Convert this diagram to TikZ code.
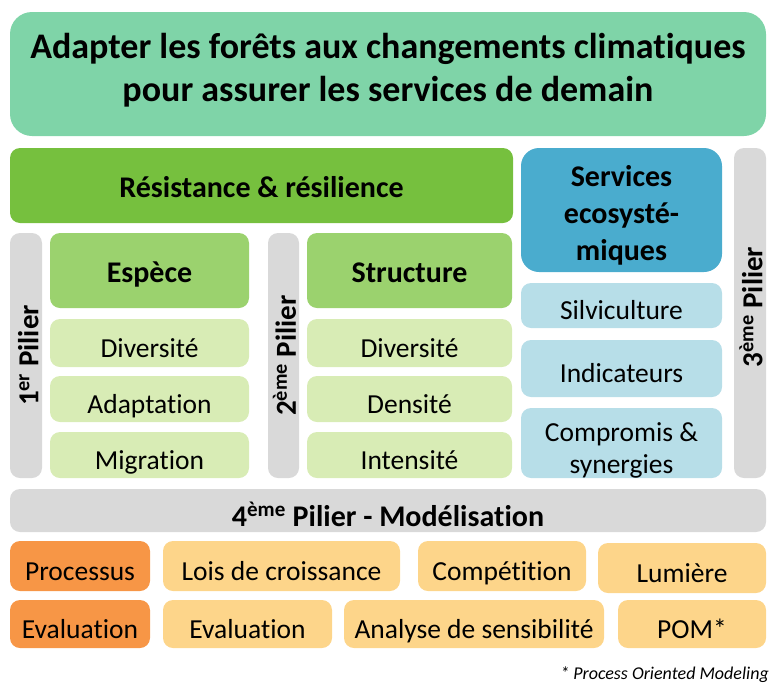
\documentclass[tikz,border=0pt]{standalone}
\usepackage{fontspec}
\setmainfont{Carlito}[Ligatures={NoCommon,NoRare,NoContextual}]
\definecolor{cTop}{RGB}{127,212,168}
\definecolor{cRes}{RGB}{118,192,62}
\definecolor{cEsp}{RGB}{155,210,110}
\definecolor{cLg}{RGB}{216,236,181}
\definecolor{cServ}{RGB}{74,172,206}
\definecolor{cLb}{RGB}{183,222,232}
\definecolor{cGray}{RGB}{217,217,217}
\definecolor{cOr}{RGB}{247,150,70}
\definecolor{cLo}{RGB}{253,213,138}
\newcommand{\fs}[1]{\fontsize{#1}{#1}\selectfont}
\begin{document}
\begin{tikzpicture}[x=1pt,y=-1pt,
  bx/.style={rectangle,rounded corners=10pt,inner sep=0pt,text=black},
  big/.style={bx,font=\fs{30}\bfseries,text height=24pt,text depth=0pt},
  small/.style={bx,font=\fs{27.5},text height=28.6pt,text depth=0pt},
  pil/.style={bx,fill=cGray,rotate=90,font=\fs{29}\bfseries,text height=24.6pt,text depth=0pt},
  txt/.style={inner sep=0pt,align=center,text=black},
]
\useasboundingbox (0,0) rectangle (771,683);
% top
\node[bx,fill=cTop,rounded corners=22pt,minimum width=756pt,minimum height=124pt] (top) at (388,74) {};
\node[txt,font={\fontsize{36}{43}\selectfont\bfseries}] (topt) at (388,70.5)
  {Adapter les forêts aux changements climatiques\\ pour assurer les services de demain};
% resistance
\node[big,fill=cRes,minimum width=503pt,minimum height=75pt] (res) at (261.5,185.5) {Résistance \& résilience};
\node[bx,fill=cServ,rounded corners=18pt,minimum width=201pt,minimum height=124pt] (serv) at (621.5,210) {};
\node[txt,font={\fontsize{30}{37}\selectfont\bfseries}] (servt) at (621.5,215)
  {Services\\ ecosysté-\\ miques};
% piliers
\node[bx,fill=cGray,minimum width=32pt,minimum height=330pt] (p3) at (750,313) {};
\node[pil,fill=none,minimum width=130pt,minimum height=32pt] (p3t) at (750,307) {3\textsuperscript{ème} Pilier};
\node[pil,minimum width=245pt,minimum height=32pt] (p1) at (26,355.5) {1\textsuperscript{er} Pilier};
\node[pil,minimum width=245pt,minimum height=31pt] (p2) at (283.5,355.5) {2\textsuperscript{ème} Pilier};
% espece column
\node[big,fill=cEsp,minimum width=199pt,minimum height=75pt] (esp) at (149.5,270.5) {Espèce};
\node[small,fill=cLg,minimum width=199pt,minimum height=48pt] (d1) at (149.5,343) {Diversité};
\node[small,fill=cLg,minimum width=199pt,minimum height=46pt] (a1) at (149.5,399) {Adaptation};
\node[small,fill=cLg,minimum width=199pt,minimum height=46pt] (m1) at (149.5,455) {Migration};
% structure column
\node[big,fill=cEsp,minimum width=205pt,minimum height=75pt] (str) at (409.5,270.5) {Structure};
\node[small,fill=cLg,minimum width=205pt,minimum height=48pt] (d2) at (409.5,343) {Diversité};
\node[small,fill=cLg,minimum width=205pt,minimum height=46pt] (de2) at (409.5,399) {Densité};
\node[small,fill=cLg,minimum width=205pt,minimum height=46pt] (i2) at (409.5,455) {Intensité};
% services column
\node[small,fill=cLb,minimum width=201pt,minimum height=45pt] (sil) at (621.5,305.5) {Silviculture};
\node[small,fill=cLb,minimum width=201pt,minimum height=57pt] (ind) at (621.5,368.5) {Indicateurs};
\node[bx,fill=cLb,minimum width=201pt,minimum height=70pt] (comp) at (621.5,443) {};
\node[txt,font={\fontsize{27.5}{32}\selectfont}] (compt) at (621.5,450.5) {Compromis \&\\ synergies};
% modelisation
\node[big,fill=cGray,minimum width=756pt,minimum height=43pt,text height=31pt] (p4) at (388,510.5) {4\textsuperscript{ème} Pilier - Modélisation};
\node[small,fill=cOr,minimum width=140pt,minimum height=50pt] (proc) at (80,566) {Processus};
\node[small,fill=cLo,minimum width=237pt,minimum height=50pt] (lois) at (281.5,566) {Lois de croissance};
\node[small,fill=cLo,minimum width=168pt,minimum height=50pt] (compet) at (502,566) {Compétition};
\node[small,fill=cLo,minimum width=168pt,minimum height=50pt] (lum) at (682,568) {Lumière};
\node[small,fill=cOr,minimum width=140pt,minimum height=48pt] (ev1) at (80,624) {Evaluation};
\node[small,fill=cLo,minimum width=169pt,minimum height=48pt] (ev2) at (247.5,624) {Evaluation};
\node[small,fill=cLo,minimum width=260pt,minimum height=48pt] (ana) at (474,624) {Analyse de sensibilité};
\node[small,fill=cLo,minimum width=148pt,minimum height=48pt] (pom) at (692,624) {POM*};
\node[anchor=base east,inner sep=0pt,font=\fs{18}\itshape] (foot) at (769,679) {* Process Oriented Modeling};
\end{tikzpicture}
\end{document}
